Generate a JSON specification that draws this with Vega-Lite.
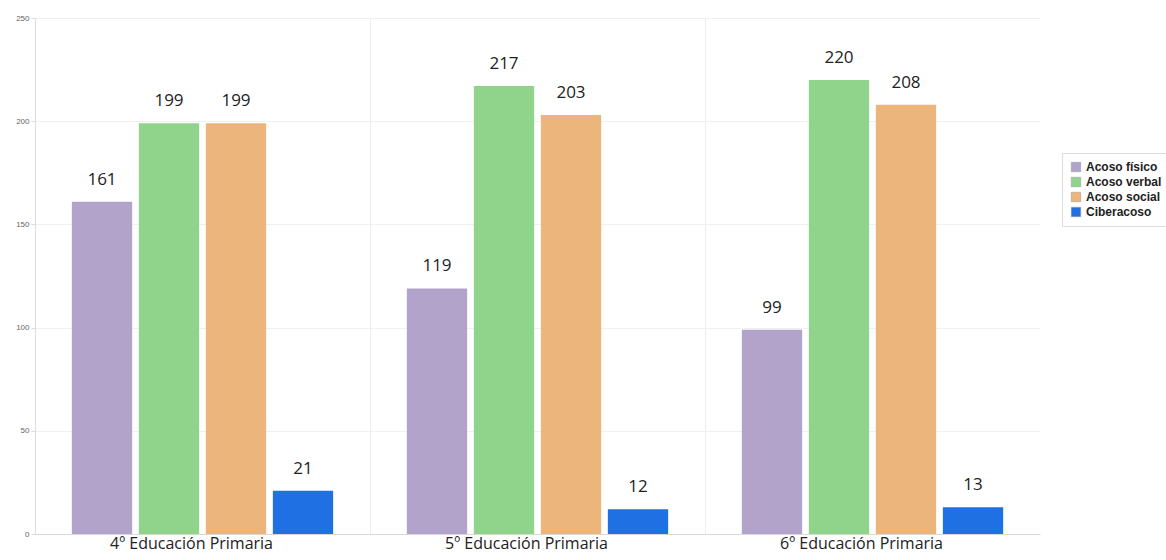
{
  "$schema": "https://vega.github.io/schema/vega-lite/v6.json",
  "width": 1005,
  "height": 516,
  "autosize": {"type": "none"},
  "padding": {"left": 35, "top": 18, "right": 126, "bottom": 26},
  "background": "white",
  "view": {"stroke": null},
  "data": {
    "values": [
      {"curso": "4º Educación Primaria", "tipo": "Acoso físico", "valor": 161},
      {"curso": "4º Educación Primaria", "tipo": "Acoso verbal", "valor": 199},
      {"curso": "4º Educación Primaria", "tipo": "Acoso social", "valor": 199},
      {"curso": "4º Educación Primaria", "tipo": "Ciberacoso", "valor": 21},
      {"curso": "5º Educación Primaria", "tipo": "Acoso físico", "valor": 119},
      {"curso": "5º Educación Primaria", "tipo": "Acoso verbal", "valor": 217},
      {"curso": "5º Educación Primaria", "tipo": "Acoso social", "valor": 203},
      {"curso": "5º Educación Primaria", "tipo": "Ciberacoso", "valor": 12},
      {"curso": "6º Educación Primaria", "tipo": "Acoso físico", "valor": 99},
      {"curso": "6º Educación Primaria", "tipo": "Acoso verbal", "valor": 220},
      {"curso": "6º Educación Primaria", "tipo": "Acoso social", "valor": 208},
      {"curso": "6º Educación Primaria", "tipo": "Ciberacoso", "valor": 13}
    ]
  },
  "encoding": {
    "x": {
      "field": "curso", "type": "nominal", "title": null,
      "scale": {"paddingInner": 0, "paddingOuter": 0},
      "axis": {
        "labelAngle": 0, "labelFont": "Open Sans", "labelFontSize": 16, "labelColor": "#222",
        "labelOffset": -11, "labelPadding": 1, "ticks": false, "tickExtra": false,
        "domainColor": "#d8d8d8", "grid": true, "gridColor": "#eeeeee", "bandPosition": 0
      }
    },
    "xOffset": {
      "field": "tipo", "type": "nominal",
      "sort": ["Acoso físico", "Acoso verbal", "Acoso social", "Ciberacoso"],
      "scale": {"paddingInner": 0.1, "paddingOuter": 0.55}
    },
    "y": {
      "field": "valor", "type": "quantitative", "title": null,
      "scale": {"domain": [0, 250], "nice": false},
      "axis": {
        "values": [0, 50, 100, 150, 200, 250],
        "labelFont": "Liberation Sans", "labelFontSize": 8, "labelColor": "#666",
        "tickSize": 4, "tickColor": "#dddddd", "domainColor": "#dddddd",
        "gridColor": "#f0f0f0", "labelPadding": 2
      }
    }
  },
  "layer": [
    {
      "mark": {"type": "bar"},
      "encoding": {
        "color": {
          "field": "tipo", "type": "nominal", "title": null,
          "sort": ["Acoso físico", "Acoso verbal", "Acoso social", "Ciberacoso"],
          "scale": {
            "domain": ["Acoso físico", "Acoso verbal", "Acoso social", "Ciberacoso"],
            "range": ["#b1a3c9", "#90d38b", "#ecb57b", "#1f70e2"]
          },
          "legend": {
            "orient": "none", "legendX": 1027, "legendY": 135,
            "symbolType": "square", "symbolSize": 90, "symbolStrokeWidth": 0.5, "symbolStrokeColor": "#999",
            "labelFont": "Liberation Sans", "labelFontWeight": "bold", "labelFontSize": 12, "labelColor": "#222",
            "strokeColor": "#dddddd", "padding": 8, "rowPadding": 3, "labelOffset": 4
          }
        }
      }
    },
    {
      "mark": {"type": "text", "dy": -22, "baseline": "middle", "font": "Open Sans", "fontSize": 17, "color": "#222"},
      "encoding": {
        "text": {"field": "valor", "type": "quantitative"}
      }
    }
  ]
}
